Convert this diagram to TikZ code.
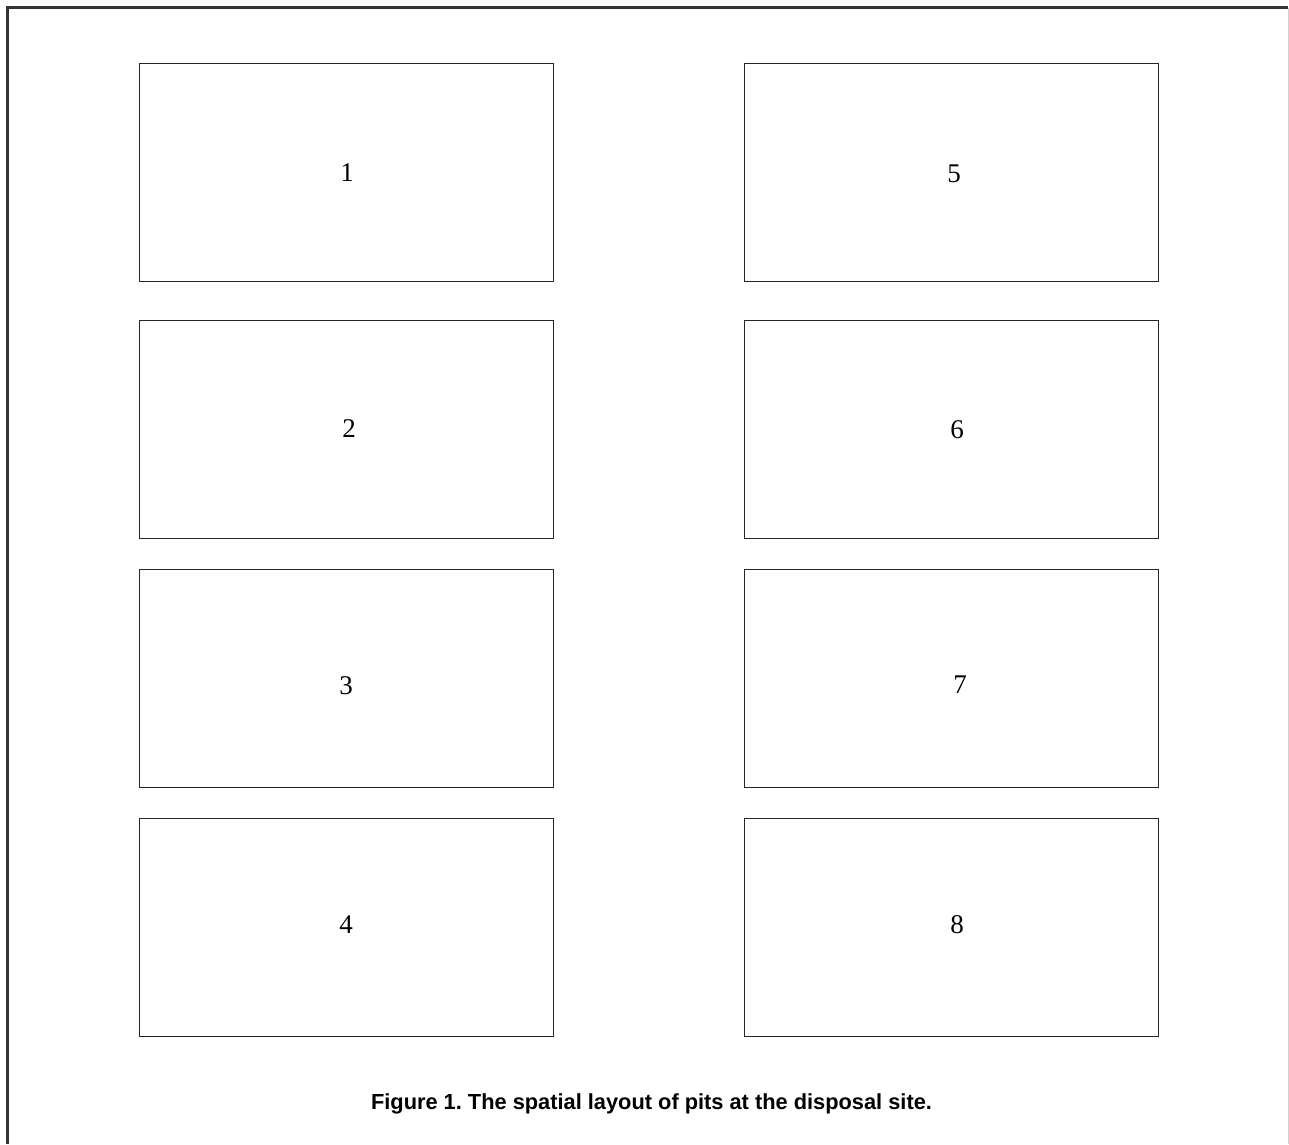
\documentclass[tikz,border=0pt]{standalone}
\usepackage{fontspec}
\newfontfamily\capfont{Liberation Sans}
\newfontfamily\numfont{Liberation Serif}
\usepackage{xcolor}
\usepackage{tikz}
\usetikzlibrary{positioning}
\definecolor{framegray}{HTML}{333333}
\definecolor{edgegray}{HTML}{D0D0D0}
\frenchspacing

\begin{document}
\begin{tikzpicture}[x=1pt,y=-1pt,
  pit/.style={draw=black!85,line width=0.9pt,minimum width=414pt,minimum height=218pt,inner sep=0pt},
  pitnum/.style={inner sep=0pt,font=\numfont\fontsize{27}{31}\selectfont}]
\useasboundingbox (0,0) rectangle (1289,1144);
% frame round the figure
\draw[framegray,line width=2.5pt] (7.5,1144) -- (7.5,7.5) -- (1288,7.5);
\draw[edgegray,line width=1pt] (1288,7.5) -- (1288,1144);
% the eight pits
\foreach \n/\cx/\cy/\lx/\ly in {1/346/172/347/173,2/346/429/349/429,3/346/678.5/346/686,4/346/927.5/346/925,
  5/951/172/954/174,6/951/429/957/430,7/951/678.5/960/685,8/951/927.5/957/925}
{
  \node[pit] (pit\n) at (\cx,\cy) {};
  \node[pitnum] (num\n) at (\lx,\ly) {\n};
}
\node[font=\capfont\bfseries\fontsize{21.8}{26}\selectfont,inner sep=0pt] (cap) at (651.5,1104)
  {Figure 1. The spatial layout of pits at the disposal site.};
\end{tikzpicture}
\end{document}
